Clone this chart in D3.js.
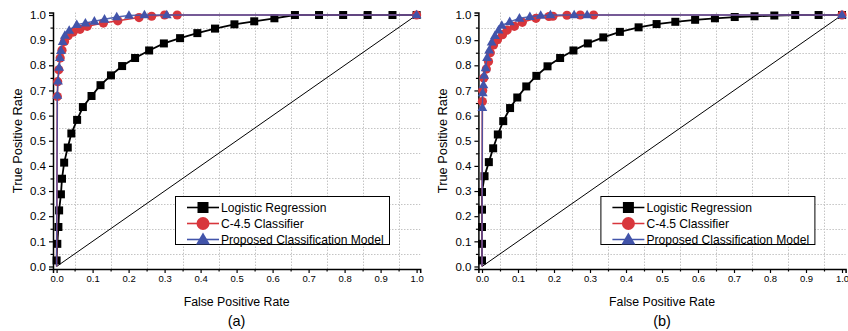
<!DOCTYPE html>
<html>
<head>
<meta charset="utf-8">
<script src="https://cdn.jsdelivr.net/npm/d3@7"></script>
<style>
  html, body { margin: 0; padding: 0; background: #fff; }
  svg { display: block; font-family: "Liberation Sans", Arial, sans-serif; }
</style>
</head>
<body>
<svg id="chart" width="848" height="331"></svg>
<script>
// ---------- data ----------
const majorTicks = [0.0, 0.1, 0.2, 0.3, 0.4, 0.5, 0.6, 0.7, 0.8, 0.9, 1.0];
const minorTicks = [0.05, 0.15, 0.25, 0.35, 0.45, 0.55, 0.65, 0.75, 0.85, 0.95];
const seriesNames = ["Logistic Regression", "C-4.5 Classifier", "Proposed Classification Model"];
const panelLabels = ["(a)", "(b)"];
const chanceLine = [[0, 0], [1, 1]];

// Panel (a)
const logisticA = [[0.0,0.024],[0.002,0.090],[0.005,0.157],[0.007,0.223],[0.012,0.287],[0.015,0.349],
  [0.021,0.413],[0.031,0.473],[0.041,0.529],[0.057,0.583],[0.073,0.634],[0.097,0.678],[0.122,0.721],
  [0.151,0.760],[0.182,0.797],[0.218,0.829],[0.257,0.859],[0.298,0.887],[0.343,0.908],[0.391,0.928],
  [0.440,0.946],[0.494,0.963],[0.549,0.975],[0.605,0.987],[0.662,1.0],[0.729,1.0],[0.796,1.0],
  [0.864,1.0],[0.933,1.0],[1.0,1.0]];
const c45A = [[0,0],[0.002,0.676],[0.003,0.735],[0.006,0.782],[0.010,0.829],[0.015,0.860],[0.022,0.895],
  [0.032,0.918],[0.046,0.932],[0.065,0.943],[0.085,0.955],[0.130,0.968],[0.170,0.977],[0.229,0.990],
  [0.264,0.995],[0.300,1.0],[0.335,1.0],[1.0,1.0]];
const proposedA = [[0,0],[0.002,0.680],[0.004,0.737],[0.007,0.792],[0.009,0.830],[0.012,0.858],[0.017,0.894],
  [0.023,0.919],[0.035,0.939],[0.056,0.962],[0.080,0.968],[0.105,0.975],[0.133,0.983],[0.167,0.992],
  [0.201,0.998],[0.244,1.0],[0.306,1.0],[1.0,1.0]];

// Panel (b)
const logisticB = [[0.0,0.024],[0.0,0.090],[0.0,0.157],[0.0,0.226],[0.0,0.296],[0.007,0.359],[0.019,0.415],
  [0.031,0.470],[0.044,0.525],[0.059,0.578],[0.078,0.630],[0.098,0.672],[0.123,0.716],[0.151,0.758],
  [0.182,0.796],[0.217,0.829],[0.254,0.859],[0.294,0.887],[0.337,0.911],[0.383,0.933],[0.435,0.951],
  [0.485,0.964],[0.537,0.973],[0.592,0.981],[0.647,0.987],[0.702,0.992],[0.757,0.995],[0.812,0.998],
  [0.870,1.0],[0.935,1.0],[1.0,1.0]];
const c45B = [[0,0],[0.001,0.656],[0.002,0.700],[0.005,0.750],[0.012,0.785],[0.018,0.815],[0.023,0.850],
  [0.032,0.881],[0.043,0.902],[0.057,0.922],[0.070,0.940],[0.090,0.955],[0.112,0.971],[0.150,0.987],
  [0.186,0.994],[0.197,0.995],[0.236,0.999],[0.273,1.0],[0.310,1.0],[1.0,1.0]];
const proposedB = [[0,0],[0.001,0.632],[0.002,0.690],[0.004,0.722],[0.006,0.760],[0.010,0.790],[0.014,0.830],
  [0.020,0.860],[0.027,0.892],[0.036,0.918],[0.046,0.940],[0.055,0.959],[0.077,0.973],[0.104,0.987],
  [0.133,0.993],[0.163,0.998],[0.190,1.0],[0.256,1.0],[0.292,1.0],[1.0,1.0]];

// ---------- style ----------
const RED = "#d8363c", BLUE = "#4254aa", BLACK = "#000";
const svg = d3.select("#chart");

function drawPanel(x0, label, logistic, c45, proposed) {
  const x = d3.scaleLinear().domain([-0.01, 1.01]).range([x0, x0 + 367.2]);
  const y = d3.scaleLinear().domain([-0.01, 1.01]).range([269, 12.5]);
  const g = svg.append("g");

  // grid
  const grid = g.append("g").attr("stroke", "#c4c4c4").attr("stroke-width", 1)
    .attr("stroke-dasharray", "1.5,1.5").attr("fill", "none");
  grid.selectAll("line.v").data(minorTicks).join("line").attr("class", "v")
    .attr("x1", d => Math.round(x(d)) + 0.5).attr("x2", d => Math.round(x(d)) + 0.5)
    .attr("y1", y(-0.01)).attr("y2", y(1.01));
  grid.selectAll("line.h").data(minorTicks).join("line").attr("class", "h")
    .attr("y1", d => Math.round(y(d)) + 0.5).attr("y2", d => Math.round(y(d)) + 0.5)
    .attr("x1", x(-0.01)).attr("x2", x(1.01));

  // axes
  const fmt = d3.format(".1f");
  const xAxis = g.append("g").attr("transform", `translate(0,${y(-0.01)})`)
    .call(d3.axisBottom(x).tickValues(majorTicks).tickFormat(fmt).tickSize(4).tickPadding(2));
  g.append("g").attr("transform", `translate(0,${y(-0.01)})`)
    .call(d3.axisBottom(x).tickValues(minorTicks).tickFormat("").tickSize(2.5))
    .select(".domain").remove();
  const yAxis = g.append("g").attr("transform", `translate(${x(-0.01)},0)`)
    .call(d3.axisLeft(y).tickValues(majorTicks).tickFormat(fmt).tickSize(4).tickPadding(3));
  g.append("g").attr("transform", `translate(${x(-0.01)},0)`)
    .call(d3.axisLeft(y).tickValues(minorTicks).tickFormat("").tickSize(2.5))
    .select(".domain").remove();
  g.selectAll(".domain").attr("stroke-width", 1.5);
  g.selectAll(".tick line").attr("stroke-width", 1.2);
  xAxis.selectAll("text").attr("font-size", 9.5).attr("font-family", "Liberation Sans, Arial");
  yAxis.selectAll("text").attr("font-size", 11.5).attr("font-family", "Liberation Sans, Arial");

  // titles
  g.append("text").attr("x", (x(0) + x(1)) / 2).attr("y", 306).attr("text-anchor", "middle")
    .attr("font-size", 12.3).text("False Positive Rate");
  g.append("text").attr("transform", `translate(${x0 - 31},${(y(0) + y(1)) / 2}) rotate(-90)`)
    .attr("text-anchor", "middle").attr("font-size", 12.8).text("True Positive Rate");
  g.append("text").attr("x", (x(0) + x(1)) / 2).attr("y", 326).attr("text-anchor", "middle")
    .attr("font-size", 14.5).text(label);

  // chance line
  const line = d3.line().x(d => x(d[0])).y(d => y(d[1]));
  g.append("path").datum(chanceLine).attr("d", line).attr("fill", "none")
    .attr("stroke", BLACK).attr("stroke-width", 1);

  // logistic
  g.append("path").datum(logistic).attr("d", line).attr("fill", "none")
    .attr("stroke", BLACK).attr("stroke-width", 1.8);
  g.selectAll("rect.lr").data(logistic).join("rect").attr("class", "lr")
    .attr("x", d => x(d[0]) - 4).attr("y", d => y(d[1]) - 4)
    .attr("width", 8).attr("height", 8).attr("fill", BLACK);

  // C4.5
  g.append("path").datum(c45).attr("d", line).attr("fill", "none")
    .attr("stroke", RED).attr("stroke-width", 1.6);
  g.selectAll("circle.c45").data(c45.filter(d => !(d[0] === 0 && d[1] === 0))).join("circle").attr("class", "c45")
    .attr("cx", d => x(d[0])).attr("cy", d => y(d[1])).attr("r", 4.6).attr("fill", RED);

  // Proposed
  g.append("path").datum(proposed).attr("d", line).attr("fill", "none")
    .attr("stroke", BLUE).attr("stroke-width", 1.4).attr("stroke-opacity", 0.9);
  const tri = d3.symbol().type(d3.symbolTriangle).size(42);
  g.selectAll("path.pr").data(proposed.filter(d => !(d[0] === 0 && d[1] === 0))).join("path").attr("class", "pr")
    .attr("d", tri).attr("transform", d => `translate(${x(d[0])},${y(d[1]) + 0.5})`).attr("fill", BLUE);

  // legend
  const lx = x0 + 122, ly = 196;
  const leg = g.append("g").attr("transform", `translate(${lx},${ly})`);
  leg.append("rect").attr("x", 0.5).attr("y", 0.5).attr("width", 214).attr("height", 48)
    .attr("fill", "#fff").attr("stroke", BLACK).attr("stroke-width", 1);
  const colors = [BLACK, RED, BLUE];
  seriesNames.forEach((name, i) => {
    const cy = 11.5 + i * 16;
    leg.append("line").attr("x1", 12).attr("x2", 44).attr("y1", cy).attr("y2", cy)
      .attr("stroke", colors[i]).attr("stroke-width", 1.6);
    if (i === 0) leg.append("rect").attr("x", 22.5).attr("y", cy - 5.5).attr("width", 11).attr("height", 11).attr("fill", BLACK);
    if (i === 1) leg.append("circle").attr("cx", 28).attr("cy", cy).attr("r", 6.5).attr("fill", RED);
    if (i === 2) leg.append("path").attr("d", d3.symbol().type(d3.symbolTriangle).size(85))
      .attr("transform", `translate(28,${cy + 1})`).attr("fill", BLUE);
    leg.append("text").attr("x", 46).attr("y", cy + 4.3).attr("font-size", 12.1).text(name);
  });
}

drawPanel(53, panelLabels[0], logisticA, c45A, proposedA);
drawPanel(478.4, panelLabels[1], logisticB, c45B, proposedB);
</script>
</body>
</html>
